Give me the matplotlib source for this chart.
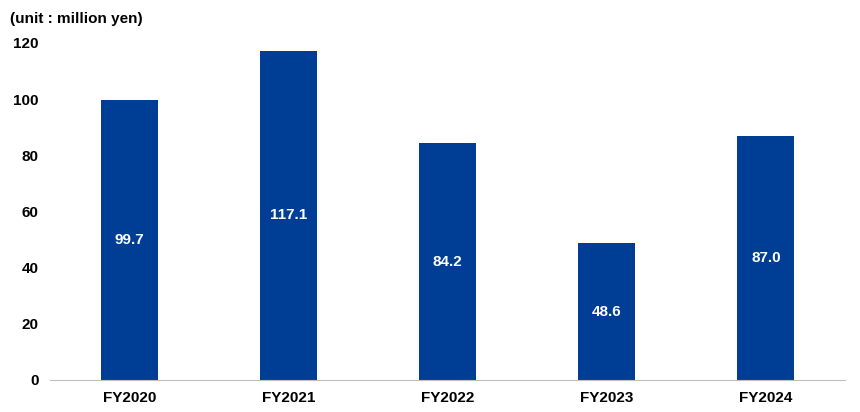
import matplotlib
matplotlib.use("Agg")
import matplotlib.pyplot as plt
import numpy as np

years = ["FY2020", "FY2021", "FY2022", "FY2023", "FY2024"]
values = [99.7, 117.1, 84.2, 48.6, 87.0]
yticks = [0, 20, 40, 60, 80, 100, 120]

plt.rcParams['font.family'] = ['Liberation Sans', 'DejaVu Sans']

fig = plt.figure(figsize=(8.6, 4.12), dpi=100)
ax = fig.add_axes([0.058, 0.078, 0.925, 0.818])

x = np.arange(len(years))
ax.bar(x, values, width=0.36, color='#003E95')
for xi, v in zip(x, values):
    ax.text(xi, v / 2, f"{v:.1f}", ha='center', va='center', color='white',
            fontsize=11, fontweight='bold')

ax.set_xlim(-0.5, len(years) - 0.5)
ax.set_ylim(0, 120)
ax.set_yticks(yticks)
ax.set_xticks(x)
ax.set_xticklabels(years, fontsize=11, fontweight='bold')
ax.set_yticklabels([str(t) for t in yticks], fontsize=11, fontweight='bold')
for s in ['top', 'right', 'left']:
    ax.spines[s].set_visible(False)
ax.spines['bottom'].set_color('#BFBFBF')
ax.tick_params(axis='both', length=0, pad=8)

fig.text(0.012, 0.955, "(unit : million yen)", fontsize=11, fontweight='bold',
         ha='left', va='center')

fig.savefig("out.png", dpi=100)
